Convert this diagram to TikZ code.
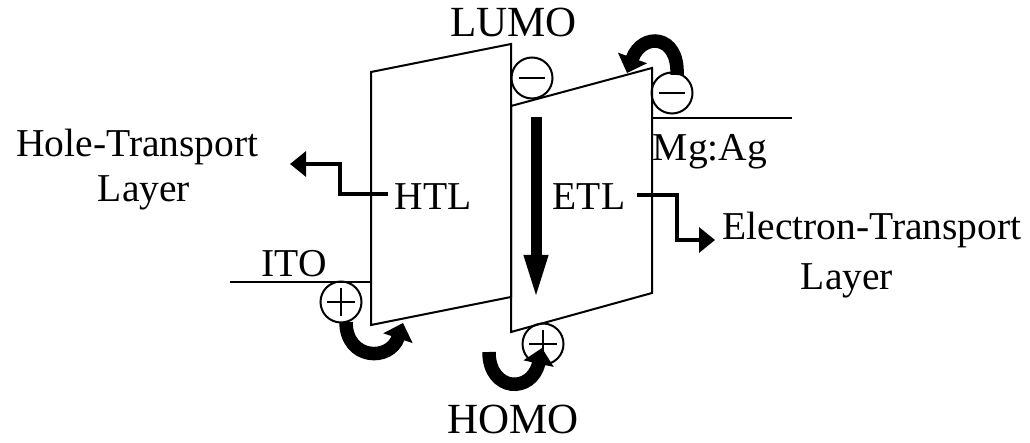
\documentclass[tikz,border=0pt]{standalone}
\usepackage{fontspec}
\setmainfont{Liberation Serif}
\usetikzlibrary{arrows.meta}
\begin{document}
\begin{tikzpicture}[x=1pt,y=-1pt,
  lbl/.style={inner sep=0pt, anchor=base, font=\fontsize{39.5}{47}\selectfont},
  bigl/.style={lbl, font=\fontsize{43}{50}\selectfont},
  layerbox/.style={line width=2pt, line join=miter},
  elec/.style={line width=2pt},
  charge/.style={circle, draw, line width=2pt, minimum size=41pt, inner sep=0pt},
  negcharge/.style={charge, path picture={\draw[line width=2pt] ([xshift=-13pt]path picture bounding box.center) -- ([xshift=13pt]path picture bounding box.center);}},
  poscharge/.style={charge, path picture={\draw[line width=2pt] ([xshift=-14pt]path picture bounding box.center) -- ([xshift=14pt]path picture bounding box.center) ([yshift=-14pt]path picture bounding box.center) -- ([yshift=14pt]path picture bounding box.center);}},
  bentarrow/.style={line width=3.5pt, line join=miter, -{Triangle[length=16pt,width=25pt]}},
  hoparrow/.style={line width=13.5pt, -{Triangle[length=16pt,width=30pt]}},
  driftarrow/.style={line width=11pt, -{Triangle[length=47pt,width=21pt]}},
]
\useasboundingbox (0,0) rectangle (1030,443);

% layers
\draw[layerbox] (371,72) -- (511,44) -- (511,297) -- (371,325) -- cycle;
\draw[layerbox] (511,106) -- (652,68) -- (652,293) -- (511,332) -- cycle;
% electrodes
\coordinate (itoL) at (230,282);
\coordinate (itoR) at (371,282);
\coordinate (mgL) at (652,118);
\coordinate (mgR) at (792,118);
\draw[elec] (itoL) -- (itoR);
\draw[elec] (mgL) -- (mgR);

% labels
\node[bigl] (lumo) at (513.5,37) {LUMO};
\node[bigl] (homo) at (513,433) {HOMO};
\node[lbl] (htl) at (433,210) {HTL};
\node[lbl] (etl) at (589,210) {ETL};
\node[lbl] (mgag) at (710,161) {Mg:Ag};
\node[lbl] (ito) at (294,277) {ITO};
\node[lbl] (hole1) at (137.5,157) {Hole-Transport};
\node[lbl] (hole2) at (144,202) {Layer};
\node[lbl] (el1) at (872,240) {Electron-Transport};
\node[lbl] (el2) at (847,290) {Layer};

% charges
\node[negcharge] (e1) at (532,78) {};
\node[negcharge] (e2) at (672,93) {};
\node[poscharge] (h1) at (341,302) {};
\node[poscharge] (h2) at (543,344) {};

% bent pointers
\coordinate (b1s) at (388,194);
\coordinate (b1e) at (290,164);
\draw[bentarrow] (b1s) -- (340,194) -- (340,164) -- (b1e);
\coordinate (b2s) at (637,195);
\coordinate (b2e) at (715,240);
\draw[bentarrow] (b2s) -- (677,195) -- (677,240) -- (b2e);

% hopping arrows
\coordinate (hA) at (346,322);
\coordinate (hAe) at (403,323);
\draw[hoparrow] (hA) .. controls (346,360) and (390,362) .. (hAe);
\coordinate (hB) at (489,352);
\coordinate (hBe) at (542,348);
\draw[hoparrow] (hB) .. controls (489,392) and (532,394) .. (hBe);
\coordinate (eA) at (677,75);
\coordinate (eAe) at (627,73);
\draw[hoparrow] (eA) .. controls (679,34) and (642,32) .. (eAe);

% drift arrow
\coordinate (d1) at (536,117);
\coordinate (d2) at (536,302);
\draw[driftarrow] (d1) -- (d2);
\end{tikzpicture}
\end{document}
